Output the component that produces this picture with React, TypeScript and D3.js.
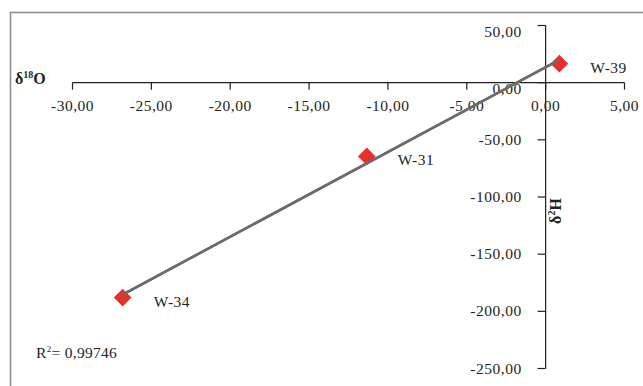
import React from "react";
import * as d3 from "d3";

// samples (δ18O, δ2H)
const sampleNames = ["W-34", "W-31", "W-39"];
const d18O = [-26.82, -11.34, 0.87];
const d2H = [-188, -64.5, 16.6];

const xTicks = [-30, -25, -20, -15, -10, -5, 0, 5];
const yTicks = [50, 0, -50, -100, -150, -200, -250];
const r2Label = "0,99746";

const W = 643;
const H = 386;
const FONT = "'Liberation Serif', 'Times New Roman', serif";
const LS = 0.5;

const fmt = (v: number) => (v < 0 ? "-" : "") + Math.abs(v).toFixed(2).replace(".", ",");

export default function App() {
	const x = d3.scaleLinear().domain([-30, 5]).range([72.5, 624.5]);
	const y = d3.scaleLinear().domain([-250, 50]).range([368.5, 25.5]);

	const points = sampleNames.map((name, i) => ({ name, x: d18O[i], y: d2H[i] }));

	// least squares trendline
	const mx = d3.mean(d18O) as number;
	const my = d3.mean(d2H) as number;
	const slope =
		d3.sum(points, p => (p.x - mx) * (p.y - my)) / d3.sum(points, p => (p.x - mx) ** 2);
	const icpt = my - slope * mx;
	const [x0, x1] = d3.extent(d18O) as [number, number];
	const line = d3.line<number>().x(v => x(v)).y(v => y(slope * v + icpt));

	const ax = x(0);
	const ay = y(0);
	const diamond = d3.symbol().type(d3.symbolDiamond2).size(200)();

	return (
		<svg width={W} height={H} style={{ position: "absolute", left: 0, top: 0, background: "#fff" }}>
			<rect x={10.5} y={12.5} width={700} height={500} fill="none" stroke="#8a8a8a" strokeWidth={1.5} />

			{/* x axis */}
			<g fontFamily={FONT} fontSize={15.5} letterSpacing={LS} fill="#231f20">
				<line x1={x(-30)} x2={x(5)} y1={ay} y2={ay} stroke="#231f20" strokeWidth={1.2} />
				{xTicks.map(t => (
					<g key={t}>
						<line x1={x(t)} x2={x(t)} y1={ay} y2={ay + 7} stroke="#231f20" strokeWidth={1.2} />
						<text x={x(t)} y={ay + 28} textAnchor="middle">{fmt(t)}</text>
					</g>
				))}
			</g>

			{/* y axis */}
			<g fontFamily={FONT} fontSize={15.5} letterSpacing={LS} fill="#231f20">
				<line x1={ax} x2={ax} y1={y(50)} y2={y(-250)} stroke="#231f20" strokeWidth={1.2} />
				{yTicks.map(t => (
					<g key={t}>
						<line x1={ax - 8} x2={ax} y1={y(t)} y2={y(t)} stroke="#231f20" strokeWidth={1.2} />
						<text x={ax - 24} y={y(t) + (t === 50 || t === 0 ? 11 : 5)} textAnchor="end">{fmt(t)}</text>
					</g>
				))}
			</g>

			{/* axis titles */}
			<text x={15} y={84} fontFamily={FONT} fontSize={16} fontWeight="bold" fill="#231f20">
				δ<tspan fontSize={10} dy={-6}>18</tspan><tspan dy={6}>O</tspan>
			</text>
			<text
				transform={`translate(${ax + 15.5},211) rotate(-90)`}
				textAnchor="middle"
				fontFamily={FONT}
				fontSize={16}
				fontWeight="bold"
				fill="#231f20"
			>
				δ<tspan fontSize={10} dy={-6}>2</tspan><tspan dy={6}>H</tspan>
			</text>

			{/* trendline */}
			<path d={line([x0, x1]) as string} fill="none" stroke="#6b6b6b" strokeWidth={2.5} />

			{/* points */}
			{points.map(p => (
				<g key={p.name}>
					<path d={diamond as string} transform={`translate(${x(p.x)},${y(p.y)})`} fill="#e8302a" />
					<text x={x(p.x) + 31} y={y(p.y) + 9} fontFamily={FONT} fontSize={15.5} letterSpacing={LS} fill="#231f20">{p.name}</text>
				</g>
			))}
			<path d={line([x0, x1]) as string} fill="none" stroke="#6b6b6b" strokeWidth={2.5} />

			<text x={36} y={358} fontFamily={FONT} fontSize={15.5} letterSpacing={0.3} fill="#231f20">
				R<tspan fontSize={9} dy={-6}>2</tspan><tspan dy={6}>= {r2Label}</tspan>
			</text>
		</svg>
	);
}
